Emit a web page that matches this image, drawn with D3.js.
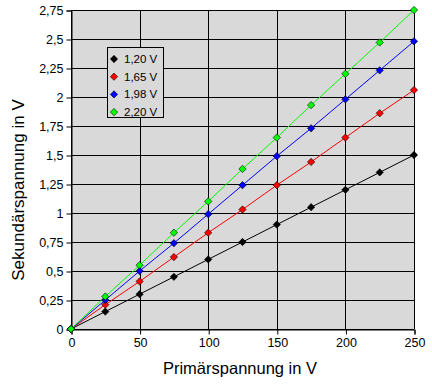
<!DOCTYPE html>
<html>
<head>
<meta charset="utf-8">
<script src="https://cdn.jsdelivr.net/npm/d3@7"></script>
<style>
  body { margin: 0; background: #fff; }
  svg text { font-family: "Liberation Sans", Arial, sans-serif; fill: #000; }
</style>
</head>
<body>
<div id="chart"></div>
<script>
const width = 432;
const height = 385;
const margin = ({top: 10, right: 18, bottom: 56, left: 71});

// Primärspannung (V)
const primaer = [0, 25, 50, 75, 100, 125, 150, 175, 200, 225, 250];
// Sekundärspannung (V) je Messreihe
const reihe120 = [0, 0.15, 0.30, 0.45, 0.60, 0.75, 0.90, 1.05, 1.20, 1.35, 1.50];
const reihe165 = [0, 0.21, 0.41, 0.62, 0.83, 1.03, 1.24, 1.44, 1.65, 1.86, 2.06];
const reihe198 = [0, 0.25, 0.50, 0.74, 0.99, 1.24, 1.49, 1.73, 1.98, 2.23, 2.48];
const reihe220 = [0, 0.28, 0.55, 0.83, 1.10, 1.38, 1.65, 1.93, 2.20, 2.47, 2.75];

const labels = ["1,20 V", "1,65 V", "1,98 V", "2,20 V"];
const colorList = ["#000000", "#ff0000", "#0000ff", "#00ff00"];
const xTicks = [0, 50, 100, 150, 200, 250];
const yTicks = [0, 0.25, 0.5, 0.75, 1, 1.25, 1.5, 1.75, 2, 2.25, 2.5, 2.75];

const series = [reihe120, reihe165, reihe198, reihe220].map((vals, i) => ({
    name: labels[i],
    color: colorList[i],
    points: vals.map((v, j) => ({x: primaer[j], y: v}))
}));

const fmt = (d) => String(d).replace(".", ",");

let svg = d3.select("#chart")
    .append("svg")
    .attr("width", width)
    .attr("height", height);

let xScale = d3.scaleLinear()
    .domain([0, 250])
    .range([margin.left, width - margin.right]);

let yScale = d3.scaleLinear()
    .domain([0, 2.75])
    .range([height - margin.bottom, margin.top]);

// plot background
svg.append("rect")
    .attr("x", xScale(0))
    .attr("y", yScale(2.75))
    .attr("width", xScale(250) - xScale(0))
    .attr("height", yScale(0) - yScale(2.75))
    .attr("fill", "#d9d9d9");

// grid
svg.append("g")
    .selectAll("line")
    .data(yTicks)
    .join("line")
    .attr("x1", xScale(0))
    .attr("x2", xScale(250))
    .attr("y1", d => Math.round(yScale(d)) + 0.5)
    .attr("y2", d => Math.round(yScale(d)) + 0.5)
    .attr("stroke", "#000")
    .attr("stroke-width", 1);

svg.append("g")
    .selectAll("line")
    .data(xTicks)
    .join("line")
    .attr("x1", d => Math.round(xScale(d)) + 0.5)
    .attr("x2", d => Math.round(xScale(d)) + 0.5)
    .attr("y1", yScale(2.75))
    .attr("y2", yScale(0))
    .attr("stroke", "#000")
    .attr("stroke-width", 1);

// axes
let xAxis = d3.axisBottom(xScale)
    .tickValues(xTicks)
    .tickSize(5)
    .tickPadding(4)
    .tickFormat(fmt);

let yAxis = d3.axisLeft(yScale)
    .tickValues(yTicks)
    .tickSize(5)
    .tickPadding(3)
    .tickFormat(fmt);

let gx = svg.append("g")
    .attr("transform", "translate(0.5," + (Math.round(yScale(0)) + 0.5) + ")")
    .call(xAxis);

let gy = svg.append("g")
    .attr("transform", "translate(" + (Math.round(xScale(0)) + 0.5) + ",0.5)")
    .call(yAxis);

[gx, gy].forEach(g => {
    g.select(".domain").attr("stroke", "#000");
    g.selectAll(".tick line").attr("stroke", "#000");
    g.selectAll(".tick text")
        .attr("font-family", "Liberation Sans, Arial, sans-serif")
        .attr("font-size", 12.5)
        .attr("fill", "#000");
});

// series lines
let line = d3.line()
    .x(d => xScale(d.x))
    .y(d => yScale(d.y));

svg.append("g")
    .selectAll("path")
    .data(series)
    .join("path")
    .attr("d", d => line(d.points))
    .attr("fill", "none")
    .attr("stroke", d => d.color)
    .attr("stroke-width", 1);

// markers
const diamond = d3.symbol().type(d3.symbolDiamond2).size(34);

series.forEach(s => {
    svg.append("g")
        .selectAll("path")
        .data(s.points)
        .join("path")
        .attr("d", diamond)
        .attr("transform", d => "translate(" + xScale(d.x) + "," + yScale(d.y) + ")")
        .attr("fill", s.color)
        .attr("stroke", "#000")
        .attr("stroke-width", 0.6);
});

// legend
let legend = svg.append("g");

legend.append("rect")
    .attr("x", 107.5)
    .attr("y", 47.5)
    .attr("width", 56)
    .attr("height", 70)
    .attr("fill", "#d9d9d9")
    .attr("stroke", "#000")
    .attr("stroke-width", 1);

let items = legend.selectAll("g.item")
    .data(series)
    .join("g")
    .attr("class", "item")
    .attr("transform", (d, i) => "translate(0," + (59 + i * 17.7) + ")");

items.append("path")
    .attr("d", diamond)
    .attr("transform", "translate(114,0)")
    .attr("fill", d => d.color)
    .attr("stroke", "#000")
    .attr("stroke-width", 0.6);

items.append("text")
    .attr("x", 124)
    .attr("y", 4)
    .attr("font-size", 11.5)
    .text(d => d.name);

// axis titles
svg.append("text")
    .attr("x", 240)
    .attr("y", 374)
    .attr("text-anchor", "middle")
    .attr("font-size", 16.5)
    .text("Primärspannung in V");

svg.append("text")
    .attr("transform", "translate(24,190) rotate(-90)")
    .attr("text-anchor", "middle")
    .attr("font-size", 17)
    .text("Sekundärspannung in V");
</script>
</body>
</html>
